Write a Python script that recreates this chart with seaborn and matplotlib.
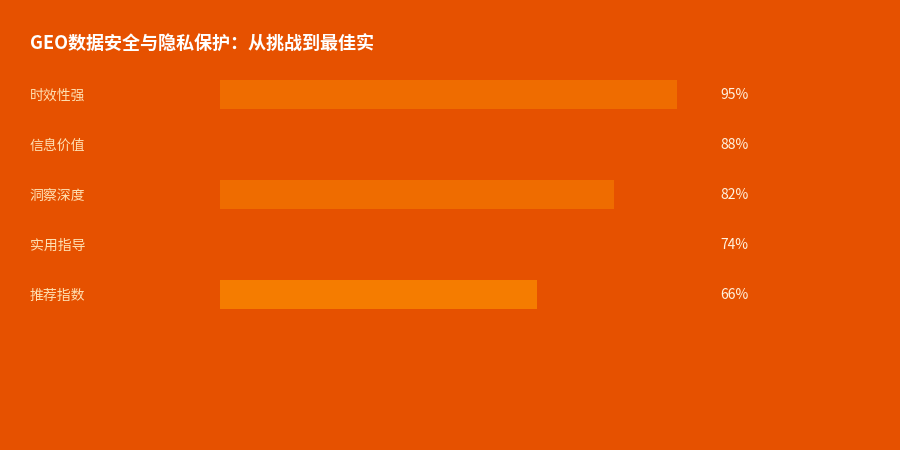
import matplotlib
matplotlib.use('Agg')
import matplotlib.pyplot as plt
import seaborn as sns
import pandas as pd

title = 'GEO数据安全与隐私保护：从挑战到最佳实'
categories = ['时效性强', '信息价值', '洞察深度', '实用指导', '推荐指数']
values = [95, 88, 82, 74, 66]
bar_colors = ['#EF6C00', '#E65100', '#EF6C00', '#E65100', '#F57C00']

bg = '#E65100'

sns.set_theme(style='white')
plt.rcParams['font.family'] = ['Noto Sans CJK SC', 'DejaVu Sans']

df = pd.DataFrame({'category': categories, 'value': values})

fig = plt.figure(figsize=(9, 4.5), dpi=100)
fig.patch.set_facecolor(bg)
ax = fig.add_axes([220 / 900, 131 / 450, 481 / 900, 250 / 450])
ax.set_facecolor(bg)

sns.barplot(data=df, x='value', y='category', hue='category', palette=bar_colors,
            legend=False, width=0.58, saturation=1, linewidth=0, ax=ax)
ax.set_xlim(0, 100)
ax.set_ylim(4.5, -0.5)
ax.set_xlabel('')
ax.set_ylabel('')
ax.set_xticks([])
ax.set_yticks([])
for s in ax.spines.values():
    s.set_visible(False)

# labels on the left and percentages on the right
for i, (cat, v) in enumerate(zip(categories, values)):
    ax.text(-39.5, i + 0.03, cat, ha='left', va='center', fontsize=10,
            color='#FFE0B2', clip_on=False)
    ax.text(103.95, i + 0.02, f'{v}%', ha='left', va='center', fontsize=10,
            color='#FFF3E0', clip_on=False)

fig.text(30 / 900, 1 - 44 / 450, title, ha='left', va='center', fontsize=13,
         fontweight='bold', color='white')

fig.savefig('out.png', dpi=100, facecolor=bg)
